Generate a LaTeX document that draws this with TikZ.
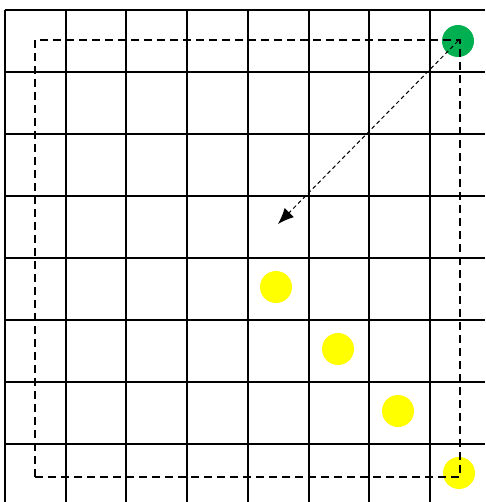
\documentclass[tikz,border=0pt]{standalone}
\usetikzlibrary{arrows.meta}
\definecolor{gr}{HTML}{00B050}
\definecolor{yl}{HTML}{FFFF00}
\begin{document}
\begin{tikzpicture}[x=1pt,y=-1pt,
  gridline/.style={line width=2pt,black},
  dot/.style={circle,inner sep=0pt,minimum size=32pt,draw=none},
  route/.style={line width=2pt,dash pattern=on 8pt off 5pt},
  move/.style={line width=1pt,dash pattern=on 4pt off 3pt,-{Latex[length=16pt,width=13pt]}}]
\useasboundingbox (0,0) rectangle (485,502);
% grid
\foreach \i in {0,...,7} {
  \draw[gridline] ({5+\i*60.7},10) -- ({5+\i*60.7},502);
  \draw[gridline] (5,{10+\i*62}) -- (485,{10+\i*62});
}
% dots
\node[dot,fill=gr] (g) at (458,41) {};
\node[dot,fill=yl] (y1) at (276,287) {};
\node[dot,fill=yl] (y2) at (338,349) {};
\node[dot,fill=yl] (y3) at (398,411) {};
\node[dot,fill=yl] (y4) at (459,473) {};
% route
\draw[route] (35,477) -- (35,40) -- (460,40) -- (460,477) -- cycle;
% move arrow
\coordinate (t) at (278,224);
\draw[move] (g.center) -- (t);
\end{tikzpicture}
\end{document}
